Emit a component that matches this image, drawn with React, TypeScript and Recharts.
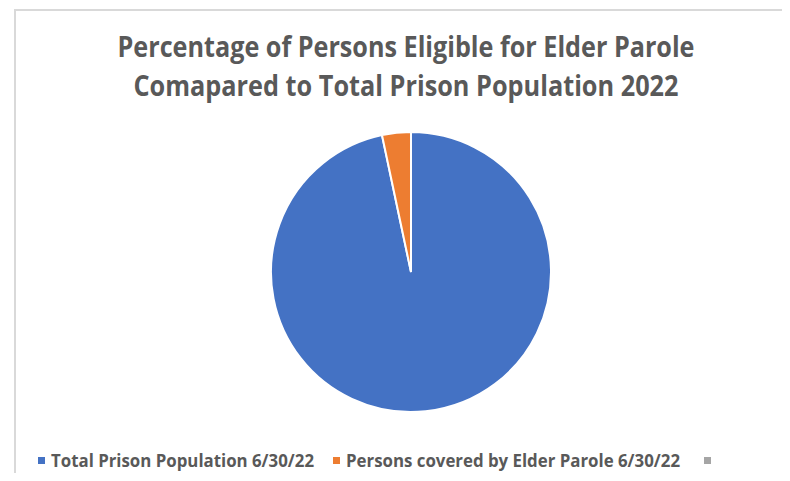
import { PieChart, Pie, Cell, Legend } from 'recharts';

// 2022年6月30日時点の値（図から読み取った概算）
const categories = ['Total Prison Population 6/30/22', 'Persons covered by Elder Parole 6/30/22', ''];
const values = [31400, 1080, 0];
const colors = ['#4472C4', '#ED7D31', '#A5A5A5'];
const titleLines = ['Percentage of Persons Eligible for Elder Parole', 'Comapared to Total Prison Population 2022'];

// 凡例の配置（参照画像に合わせた位置と幅）
const LEGEND_ITEMS = [
  { x: 38, textWidth: 263 },
  { x: 333, textWidth: 334 },
  { x: 704, textWidth: 0 },
];

const TEXT_COLOR = '#595959';
const FONT = '"Open Sans", "Noto Sans", sans-serif';

const pieData = categories
  .map((name, i) => ({ name, value: values[i], fill: colors[i] }))
  .filter((d) => d.value > 0);

function LegendRow() {
  return (
    <svg width={790} height={34} style={{ display: 'block' }}>
      {categories.map((name, i) => (
        <g key={i}>
          <rect x={LEGEND_ITEMS[i].x} y={17} width={7} height={7} fill={colors[i]} />
          {name && (
            <text
              x={LEGEND_ITEMS[i].x + 13}
              y={27}
              fontSize={18}
              fontWeight={700}
              fill={TEXT_COLOR}
              fontFamily={FONT}
              textLength={LEGEND_ITEMS[i].textWidth}
              lengthAdjust="spacingAndGlyphs"
            >
              {name}
            </text>
          )}
        </g>
      ))}
    </svg>
  );
}

export default function App() {
  return (
    <div style={{ position: 'relative', margin: -8, width: 790, height: 481, overflow: 'hidden', background: '#fff' }}>
      <div
        style={{
          position: 'absolute',
          left: 14,
          top: 9,
          width: 800,
          height: 500,
          borderTop: '2px solid #d9d9d9',
          borderLeft: '2px solid #d9d9d9',
        }}
      />
      <svg width={790} height={110} style={{ position: 'absolute', left: 0, top: 0 }}>
        {titleLines.map((line, i) => (
          <text
            key={i}
            x={406}
            y={57 + i * 39}
            textAnchor="middle"
            fontSize={28}
            fontWeight={700}
            fill={TEXT_COLOR}
            fontFamily={FONT}
            textLength={i === 0 ? 577 : 545}
            lengthAdjust="spacingAndGlyphs"
          >
            {line}
          </text>
        ))}
      </svg>
      <div style={{ position: 'absolute', left: 0, top: 0 }}>
        <PieChart width={790} height={481} margin={{ top: 0, right: 0, bottom: 0, left: 0 }}>
          <Pie
            data={pieData}
            dataKey="value"
            nameKey="name"
            cx={411}
            cy={272}
            outerRadius={140}
            startAngle={90}
            endAngle={-270}
            stroke="#ffffff"
            strokeWidth={2}
            isAnimationActive={false}
          >
            {pieData.map((d, i) => (
              <Cell key={i} fill={d.fill} />
            ))}
          </Pie>
          <Legend
            content={() => <LegendRow />}
            wrapperStyle={{ position: 'absolute', left: 0, top: 440, width: 790 }}
          />
        </PieChart>
      </div>
    </div>
  );
}
